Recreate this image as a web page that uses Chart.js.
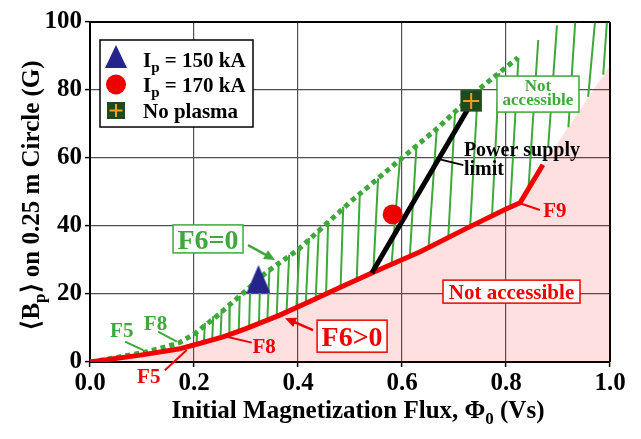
<!DOCTYPE html>
<html>
<head>
<meta charset="utf-8">
<script src="https://cdn.jsdelivr.net/npm/chart.js@4.4.1/dist/chart.umd.min.js"></script>
<style>
html, body { margin: 0; padding: 0; background: #fff; }
#wrap { width: 641px; height: 439px; }
</style>
</head>
<body>
<div id="wrap"><canvas id="myChart"></canvas></div>
<script>
const SERIF = '"Liberation Serif", "Times New Roman", serif'
const GREEN = '#3ea83a'
const RED = '#f20000'
const NAVY = '#24248c'

// F6>0 boundary (red)
const f6posX = [0, 0.1, 0.17, 0.2, 0.256, 0.3, 0.365, 0.43, 0.47, 0.545, 0.635, 0.724, 0.8, 0.827, 0.871]
const f6posY = [0, 2.1, 3.8, 5, 7.4, 9.8, 13.8, 18.3, 21.2, 26.4, 32.4, 39.3, 45, 46.8, 58]
// F6=0 boundary (green dotted)
const f6zeroX = [0, 0.05, 0.11, 0.17, 0.2, 0.24, 0.3, 0.34, 0.4, 0.45, 0.5, 0.55, 0.6, 0.67, 0.75, 0.823]
const f6zeroY = [0, 1.3, 3, 5.5, 8.2, 13, 21, 26.5, 33, 40, 47, 53.5, 60, 69, 80.5, 89.5]
// edge of the pink region past the end of the red curve
const edgeX = [0.871, 1.0]
const edgeY = [58, 87.2]
// power supply limit
const limitX = [0.542, 0.733]
const limitY = [26.2, 76]
// hatching strokes, top end and bottom end
const hatchTopX = [0.206, 0.221, 0.237, 0.253, 0.269, 0.288, 0.308, 0.327, 0.345, 0.363, 0.383, 0.403, 0.421, 0.44, 0.458,
  0.487, 0.519, 0.554, 0.596, 0.628, 0.667, 0.702, 0.746, 0.787, 0.824, 0.862, 0.898, 0.933, 0.971, 0.994]
const hatchTopY = [9, 11.5, 13.5, 15, 17, 19.5, 22, 24.5, 27, 29.2, 31.5, 34, 36.5, 39, 41.5,
  45.7, 50, 54, 59.5, 64, 68.7, 73.5, 80, 85, 89.5, 94.7, 99, 99.8, 99.8, 99.8]
const hatchBotX = [0.205, 0.219, 0.235, 0.251, 0.268, 0.286, 0.306, 0.325, 0.341, 0.359, 0.378, 0.397, 0.415, 0.434, 0.454,
  0.482, 0.513, 0.545, 0.58, 0.615, 0.651, 0.689, 0.731, 0.773, 0.808, 0.843, 0.881, 0.92, 0.958, 0.987]
const hatchBotY = [5.2, 5.8, 6.5, 7.2, 7.9, 8.9, 10.2, 11.3, 12.3, 13.5, 14.9, 16.2, 17.4, 18.6, 20.1,
  22.3, 24.5, 26.8, 28.9, 31, 33.6, 36.6, 39.6, 42.8, 45.6, 50.5, 63, 69, 78, 84.5]
// measured points
const ip150 = [[0.324, 24.4]]
const ip170 = [[0.582, 43.4]]
const noPlasma = [[0.733, 76.8]]

const xTicks = [0, 0.2, 0.4, 0.6, 0.8, 1.0]
const yTicks = [0, 20, 40, 60, 80, 100]

const pts = (xs, ys) => xs.map((v, i) => ({ x: v, y: ys[i] }))
const hatch = []
hatchTopX.forEach((v, i) => {
  hatch.push({ x: v, y: hatchTopY[i] }, { x: hatchBotX[i], y: hatchBotY[i] }, { x: hatchBotX[i], y: null })
})

const tri = document.createElement('canvas')
tri.width = 24; tri.height = 28
{
  const c = tri.getContext('2d')
  c.fillStyle = NAVY
  c.beginPath(); c.moveTo(12, 0); c.lineTo(24, 28); c.lineTo(0, 28); c.closePath(); c.fill()
}

function textRuns(ctx, runs, x, y, align) {
  // runs: [text, size, dy]
  let w = 0
  runs.forEach(r => { ctx.font = 'bold ' + r[1] + 'px ' + SERIF; w += ctx.measureText(r[0]).width })
  let cx = align === 'center' ? x - w / 2 : x
  ctx.textAlign = 'left'
  runs.forEach(r => {
    ctx.font = 'bold ' + r[1] + 'px ' + SERIF
    ctx.fillText(r[0], cx, y + r[2])
    cx += ctx.measureText(r[0]).width
  })
}

function arrow(ctx, x1, y1, x2, y2, color) {
  ctx.strokeStyle = color; ctx.fillStyle = color; ctx.lineWidth = 2.5
  const a = Math.atan2(y2 - y1, x2 - x1)
  ctx.beginPath(); ctx.moveTo(x1, y1); ctx.lineTo(x2 - 8 * Math.cos(a), y2 - 8 * Math.sin(a)); ctx.stroke()
  ctx.beginPath()
  ctx.moveTo(x2, y2)
  ctx.lineTo(x2 - 11 * Math.cos(a) + 5 * Math.sin(a), y2 - 11 * Math.sin(a) - 5 * Math.cos(a))
  ctx.lineTo(x2 - 11 * Math.cos(a) - 5 * Math.sin(a), y2 - 11 * Math.sin(a) + 5 * Math.cos(a))
  ctx.closePath(); ctx.fill()
}

function line(ctx, x1, y1, x2, y2, color, w) {
  ctx.strokeStyle = color; ctx.lineWidth = w
  ctx.beginPath(); ctx.moveTo(x1, y1); ctx.lineTo(x2, y2); ctx.stroke()
}

function box(ctx, cx, cy, w, h, color) {
  ctx.fillStyle = '#fff'; ctx.fillRect(cx - w / 2, cy - h / 2, w, h)
  ctx.strokeStyle = color; ctx.lineWidth = 1.5; ctx.strokeRect(cx - w / 2, cy - h / 2, w, h)
}

const notes = {
  id: 'notes',
  beforeDatasetsDraw(chart) {
    const { ctx, chartArea: a } = chart
    ctx.save()
    line(ctx, a.left, a.top, a.right, a.top, '#000', 2)
    line(ctx, a.right, a.top, a.right, a.bottom, '#000', 2)
    ctx.restore()
  },
  afterDatasetsDraw(chart) {
    const { ctx, scales: { x, y } } = chart
    const X = v => x.getPixelForValue(v), Y = v => y.getPixelForValue(v)
    ctx.save()
    ctx.textBaseline = 'alphabetic'

    // leaders for F labels
    line(ctx, X(0.0673), Y(6), X(0.1025), Y(3.5), GREEN, 2)
    line(ctx, X(0.131), Y(8.9), X(0.167), Y(6), GREEN, 2)
    line(ctx, X(0.144), Y(-2.4), X(0.186), Y(3.5), RED, 2)
    line(ctx, X(0.311), Y(5.7), X(0.263), Y(7.4), RED, 2)
    line(ctx, X(0.865), Y(44.7), X(0.827), Y(46.7), RED, 2)
    line(ctx, X(0.673), Y(59.6), X(0.718), Y(57.9), '#000', 2)

    ctx.fillStyle = GREEN
    textRuns(ctx, [['F5', 21, 0]], X(0.061), Y(9.4) + 7, 'center')
    textRuns(ctx, [['F8', 21, 0]], X(0.126), Y(11.6) + 7, 'center')
    ctx.fillStyle = RED
    textRuns(ctx, [['F5', 21, 0]], X(0.113), Y(-4) + 7, 'center')
    textRuns(ctx, [['F8', 21, 0]], X(0.335), Y(4.7) + 7, 'center')
    textRuns(ctx, [['F9', 21, 0]], X(0.894), Y(44.7) + 7, 'center')

    ctx.fillStyle = '#000'
    textRuns(ctx, [['Power supply', 20, 0]], X(0.719), Y(60.7), 'left')
    textRuns(ctx, [['limit', 20, 0]], X(0.719), Y(55), 'left')

    // F6=0
    box(ctx, X(0.227), Y(36.2), 70, 28, GREEN)
    ctx.fillStyle = GREEN
    textRuns(ctx, [['F6=0', 28, 0]], X(0.227), Y(36.2) + 10, 'center')
    arrow(ctx, X(0.304), Y(34.4), X(0.356), Y(30), GREEN)

    // F6>0
    box(ctx, X(0.504), Y(7.6), 70, 32, RED)
    ctx.fillStyle = RED
    textRuns(ctx, [['F6>0', 28, 0]], X(0.504), Y(7.6) + 10, 'center')
    arrow(ctx, X(0.429), Y(9.4), X(0.375), Y(12.9), RED)

    // Not accessible (red)
    box(ctx, X(0.8106), Y(20.7), 137, 23, RED)
    ctx.fillStyle = RED
    textRuns(ctx, [['Not accessible', 21, 0]], X(0.8106), Y(20.7) + 7, 'center')

    // Not accessible (green)
    box(ctx, X(0.8615), Y(78.8), 82, 36, GREEN)
    ctx.fillStyle = GREEN
    textRuns(ctx, [['Not', 17, 0]], X(0.8615), Y(78.8) - 3, 'center')
    textRuns(ctx, [['accessible', 17, 0]], X(0.8615), Y(78.8) + 11, 'center')

    // legend
    box(ctx, 176.5, 83.5, 153, 87, '#000')
    ctx.fillStyle = NAVY
    ctx.beginPath(); ctx.moveTo(116, 45); ctx.lineTo(127, 68); ctx.lineTo(105, 68); ctx.closePath(); ctx.fill()
    ctx.fillStyle = '#ee0000'
    ctx.beginPath(); ctx.arc(116, 84.5, 10, 0, Math.PI * 2); ctx.fill()
    ctx.fillStyle = '#1e4a1e'; ctx.fillRect(107, 102, 18, 17)
    line(ctx, 109.5, 110.5, 122.5, 110.5, '#f0a020', 2)
    line(ctx, 116, 104, 116, 117, '#f0a020', 2)
    ctx.fillStyle = '#000'
    textRuns(ctx, [['I', 21, 0], ['p', 15, 5], [' = 150 kA', 21, 0]], 143, 67, 'left')
    textRuns(ctx, [['I', 21, 0], ['p', 15, 5], [' = 170 kA', 21, 0]], 143, 92, 'left')
    textRuns(ctx, [['No plasma', 21, 0]], 143, 118, 'left')
    ctx.restore()
  },
  afterDraw(chart) {
    const { ctx } = chart
    ctx.save()
    ctx.fillStyle = '#000'
    ctx.textBaseline = 'alphabetic'
    textRuns(ctx, [['Initial Magnetization Flux, \u03A6', 25, 0], ['0', 17, 6], [' (Vs)', 25, 0]], 358, 418, 'center')
    ctx.translate(39, 195)
    ctx.rotate(-Math.PI / 2)
    textRuns(ctx, [['\u27E8B', 25, 0], ['p', 17, 6], ['\u27E9 on 0.25 m Circle (G)', 25, 0]], 0, 0, 'center')
    ctx.restore()
  }
}

const ctx = document.getElementById('myChart')

const data = {
  datasets: [
    { data: pts(f6posX.concat(edgeX.slice(1)), f6posY.concat(edgeY.slice(1))), fill: 'origin',
      backgroundColor: 'rgba(255,0,0,0.12)', borderWidth: 0, pointRadius: 0, order: 10 },
    { data: hatch, borderColor: GREEN, borderWidth: 2, pointRadius: 0, spanGaps: false, fill: false, order: 9 },
    { data: pts(f6zeroX, f6zeroY), borderColor: GREEN, borderWidth: 5, borderDash: [5, 4], pointRadius: 0, fill: false, order: 8 },
    { data: pts(f6posX, f6posY), borderColor: RED, borderWidth: 5, pointRadius: 0, fill: false, order: 7 },
    { data: pts(limitX, limitY), borderColor: '#000', borderWidth: 5, pointRadius: 0, fill: false, order: 6 },
    { data: ip150.map(p => ({ x: p[0], y: p[1] })), showLine: false, pointStyle: tri, order: 3 },
    { data: ip170.map(p => ({ x: p[0], y: p[1] })), showLine: false, pointStyle: 'circle', pointRadius: 10,
      backgroundColor: '#ee0000', borderWidth: 0, order: 3 },
    { data: noPlasma.map(p => ({ x: p[0], y: p[1] })), showLine: false, pointStyle: 'rect', pointRadius: 15.2,
      backgroundColor: '#1e4a1e', borderWidth: 0, order: 2 },
    { data: noPlasma.map(p => ({ x: p[0], y: p[1] })), showLine: false, pointStyle: 'cross', pointRadius: 8,
      borderColor: '#f0a020', borderWidth: 2, order: 1 }
  ]
}

const chart = new Chart(ctx, {
  type: 'line',
  data: data,
  options: {
    responsive: true,
    maintainAspectRatio: false,
    animation: false,
    devicePixelRatio: 1,
    layout: { padding: { left: 0, right: 31, top: 22, bottom: 0 } },
    plugins: { legend: { display: false }, tooltip: { enabled: false } },
    scales: {
      x: {
        type: 'linear', min: 0, max: 1,
        afterBuildTicks: s => { s.ticks = xTicks.map(v => ({ value: v })) },
        afterFit: s => { s.height = 77 },
        ticks: { callback: v => v.toFixed(1), color: '#000', padding: 2, maxRotation: 0,
          font: { family: SERIF, size: 25, weight: 'bold' } },
        grid: { color: '#505050', lineWidth: 1.2, tickLength: 5, tickColor: '#000', tickWidth: 1.5 },
        border: { color: '#000', width: 2 }
      },
      y: {
        type: 'linear', min: 0, max: 100,
        afterBuildTicks: s => { s.ticks = yTicks.map(v => ({ value: v })) },
        afterFit: s => { s.width = 90 },
        ticks: { color: '#000', padding: 3, font: { family: SERIF, size: 25, weight: 'bold' } },
        grid: { color: '#505050', lineWidth: 1.2, tickLength: 5, tickColor: '#000', tickWidth: 1.5 },
        border: { color: '#000', width: 2 }
      }
    }
  },
  plugins: [notes]
})
</script>
</body>
</html>
